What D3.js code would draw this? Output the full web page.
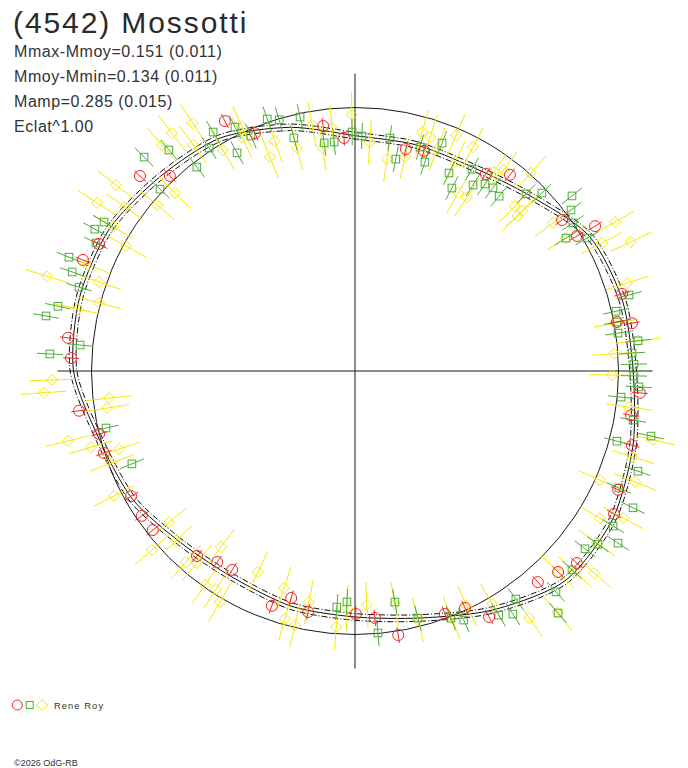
<!DOCTYPE html>
<html>
<head>
<meta charset="utf-8">
<script src="https://cdn.jsdelivr.net/npm/d3@7"></script>
<style>
  body { margin: 0; background: #fff; }
  text { font-family: "Liberation Sans", Arial, sans-serif; fill: #2a2a2a; }
</style>
</head>
<body>
<script>
const width = 688, height = 768;
const cx = 355, cy = 371;          // pole of the polar plot
const meanRadius = 263.5;          // radius of the mean magnitude circle
const pxPerMag = 225;

// header texts
const title = "(4542) Mossotti";
const infoLines = ["Mmax-Mmoy=0.151 (0.011)", "Mmoy-Mmin=0.134 (0.011)", "Mamp=0.285 (0.015)", "Eclat^1.00"];
const observer = "Rene Roy";
const credit = "\u00a92026 OdG-RB";
const axisMag = 0.151;   // axes run out to Mmax
const fitErr = 0.015;

// fitted curve: [phase in degrees, magnitude - mean]
const fitCurve = [
  [0, -0.125], [15, -0.130], [30, -0.125], [45, -0.070], [60, 0.030], [75, 0.058],
  [90, 0.065], [105, 0.108], [120, 0.150], [135, 0.148], [150, 0.055], [165, -0.035],
  [180, -0.078], [195, -0.088], [210, -0.105], [225, -0.085], [240, -0.030], [255, 0.005],
  [270, 0.080], [285, 0.096], [300, 0.090], [315, 0.052], [330, 0.025], [345, -0.050]
];

// observations: [phase in degrees, magnitude - mean]
const redObs = [
  [332.5, 0.081], [312.2, 0.119], [316.5, 0.024], [296.4, 0.099], [292.2, 0.135], [276.6, 0.113],
  [272.6, 0.092], [261.8, 0.068], [256.2, 0.000], [251.9, 0.003], [240.8, -0.031], [235.8, -0.026],
  [231.8, -0.028], [220.5, -0.090], [215.8, -0.124], [211.7, -0.132], [199.5, -0.064], [195.7, -0.123],
  [191.0, -0.080], [179.8, -0.091], [175.4, -0.070], [170.7, 0.018], [159.7, -0.020], [155.1, -0.010],
  [151.4, 0.074], [139.1, 0.070], [134.7, 0.099], [130.9, 0.133], [118.9, 0.144], [114.3, 0.112],
  [105.0, 0.103], [73.9, 0.064], [80.2, 0.078], [79.4, 0.013], [94.4, 0.099], [99.1, 0.071],
  [357.3, -0.134], [12.9, -0.159], [17.4, -0.146], [33.6, -0.120], [38.3, -0.060], [53.9, -0.032],
  [58.7, -0.016], [58.9, 0.075], [337.2, -0.024], [352.6, -0.073]
];
const greenObs = [
  [333.8, 0.037], [329.3, 0.064], [326.8, 0.013], [331.6, -0.069], [319.9, 0.113], [315.4, 0.164],
  [322.2, -0.024], [313.0, 0.014], [300.7, 0.126], [298.6, 0.146], [296.3, 0.113], [291.7, 0.197],
  [289.3, 0.161], [286.9, 0.111], [282.3, 0.180], [280.1, 0.224], [275.4, 0.056], [273.2, 0.187],
  [257.1, -0.036], [247.4, -0.097], [184.4, -0.119], [182.0, -0.144], [175.0, -0.002], [170.2, -0.129],
  [165.7, -0.038], [158.8, 0.007], [156.4, 0.037], [149.5, 0.088], [147.0, 0.117], [144.8, 0.069],
  [137.7, 0.156], [140.0, 0.233], [132.5, 0.137], [127.7, 0.121], [125.5, 0.155], [123.2, 0.226],
  [121.0, 0.167], [116.2, 0.206], [113.9, 0.112], [109.5, 0.163], [105.0, 0.034], [74.5, 0.093],
  [77.1, 0.019], [79.4, 0.013], [81.8, 0.010], [83.9, 0.094], [86.3, 0.063], [88.6, 0.069],
  [91.0, 0.069], [93.2, 0.093], [95.6, 0.017], [100.0, 0.084], [102.4, 0.176], [359.3, -0.109],
  [1.7, -0.126], [8.5, -0.124], [10.9, -0.212], [16.2, -0.135], [18.5, -0.192], [20.9, -0.087],
  [25.4, -0.197], [30.1, -0.134], [27.9, -0.251], [32.4, -0.192], [34.8, -0.159], [37.0, -0.152],
  [39.5, -0.164], [44.0, -0.077], [46.4, -0.024], [51.1, 0.068], [53.3, 0.026], [55.8, 0.000],
  [60.2, 0.017], [57.8, -0.063], [336.1, -0.029], [340.8, 0.015], [343.2, -0.005], [347.8, -0.016],
  [345.3, -0.100], [352.3, -0.148], [354.8, -0.149]
];
const yellowObs = [
  [326.8, 0.145], [322.4, 0.163], [319.5, 0.150], [324.4, 0.065], [329.1, -0.027], [335.2, 0.024],
  [314.7, -0.046], [307.9, 0.175], [303.1, 0.197], [305.5, 0.084], [310.0, -0.023], [300.8, 0.080],
  [298.6, -0.012], [291.7, 0.106], [287.1, 0.261], [289.2, 0.033], [284.9, 0.006], [282.6, 0.091],
  [268.3, 0.176], [266.0, 0.215], [263.7, -0.071], [261.5, -0.057], [256.3, 0.142], [253.9, 0.050],
  [251.7, -0.066], [249.3, -0.016], [242.6, 0.036], [230.9, -0.106], [226.5, -0.074], [228.6, 0.032],
  [217.3, -0.188], [221.5, -0.038], [219.5, -0.066], [215.0, -0.010], [212.5, -0.022], [210.3, 0.018],
  [205.8, -0.179], [198.1, -0.156], [191.3, -0.124], [195.8, -0.026], [193.3, -0.011], [184.2, -0.030],
  [181.9, -0.117], [177.1, -0.130], [170.3, -0.120], [165.8, -0.030], [158.6, 0.008], [154.5, -0.014],
  [149.5, 0.030], [144.8, 0.172], [140.1, 0.230], [134.7, 0.099], [132.4, 0.153], [130.2, 0.220],
  [125.4, 0.148], [121.0, 0.099], [118.7, 0.188], [114.0, 0.021], [111.6, 0.168], [107.2, 0.122],
  [103.0, 0.188], [72.1, 0.100], [79.6, 0.008], [83.9, 0.094], [86.2, -0.017], [90.9, -0.029],
  [97.5, 0.057], [359.3, -0.033], [3.7, -0.151], [8.6, -0.218], [13.2, -0.194], [15.7, -0.068],
  [17.8, -0.079], [20.3, -0.119], [23.2, -0.030], [27.8, -0.046], [25.6, -0.141], [30.1, -0.257],
  [32.8, -0.252], [34.9, -0.092], [36.5, -0.059], [41.6, 0.006], [44.1, -0.150], [46.2, -0.143],
  [46.4, -0.172], [53.2, -0.072], [57.8, -0.063], [62.6, 0.065], [60.2, 0.161], [64.9, 0.183],
  [340.8, -0.089], [338.3, -0.148], [345.4, -0.147], [350.1, -0.061], [351.8, -0.170], [354.6, -0.086],
  [334.2, -0.016]
];

// typical error of each session (mag)
const redErr = 0.035, greenErr = 0.058, yellowErr = 0.100;
const colors = { red: "#f02828", green: "#4cae3a", yellow: "#f6e800" };

const rScale = d3.scaleLinear().domain([0, 0.1]).range([meanRadius, meanRadius + pxPerMag * 0.1]);
const aScale = d3.scaleLinear().domain([0, 360]).range([0, 2 * Math.PI]);

function px(phase, mag) { return cx + rScale(mag) * Math.sin(aScale(phase)); }
function py(phase, mag) { return cy - rScale(mag) * Math.cos(aScale(phase)); }

var svg = d3.select("body").append("svg")
    .attr("width", width)
    .attr("height", height);

svg.append("rect").attr("width", width).attr("height", height).attr("fill", "#fff");

var plot = svg.append("g").attr("transform", "translate(" + cx + "," + cy + ")");

// axes through the pole
var axisR = rScale(axisMag);
plot.append("line").attr("x1", 0).attr("x2", 0).attr("y1", -axisR).attr("y2", axisR)
    .attr("stroke", "#1a1a1a").attr("stroke-width", 1);
plot.append("line").attr("x1", -axisR).attr("x2", axisR).attr("y1", 0).attr("y2", 0)
    .attr("stroke", "#1a1a1a").attr("stroke-width", 1);

// mean magnitude circle
plot.append("circle").attr("r", rScale(0))
    .attr("fill", "none").attr("stroke", "#1a1a1a").attr("stroke-width", 1);

// observations
function drawSeries(data, err, color, shape) {
    var g = svg.append("g");
    g.selectAll("line").data(data).enter().append("line")
        .attr("x1", d => px(d[0], d[1] - err)).attr("y1", d => py(d[0], d[1] - err))
        .attr("x2", d => px(d[0], d[1] + err)).attr("y2", d => py(d[0], d[1] + err))
        .attr("stroke", color).attr("stroke-width", 1);
    var marks = g.selectAll(".m").data(data).enter();
    if (shape == "circle") {
        marks.append("circle").attr("class", "m")
            .attr("cx", d => px(d[0], d[1])).attr("cy", d => py(d[0], d[1]))
            .attr("r", 5.5).attr("fill", "none").attr("stroke", color);
    } else if (shape == "square") {
        marks.append("rect").attr("class", "m")
            .attr("x", d => px(d[0], d[1]) - 3.8).attr("y", d => py(d[0], d[1]) - 3.8)
            .attr("width", 7.6).attr("height", 7.6).attr("fill", "none").attr("stroke", color);
    } else {
        marks.append("path").attr("class", "m")
            .attr("d", d => { var x = px(d[0], d[1]), y = py(d[0], d[1]);
                return "M" + x + "," + (y - 5.6) + "L" + (x + 5.6) + "," + y + "L" + x + "," + (y + 5.6) + "L" + (x - 5.6) + "," + y + "Z"; })
            .attr("fill", "none").attr("stroke", color);
    }
}
drawSeries(yellowObs, yellowErr, colors.yellow, "diamond");
drawSeries(greenObs, greenErr, colors.green, "square");
drawSeries(redObs, redErr, colors.red, "circle");

// fitted curve with its error envelope
function fitLine(offset) {
    return d3.lineRadial()
        .angle(d => aScale(d[0]))
        .radius(d => rScale(d[1] + offset))
        .curve(d3.curveCardinalClosed.tension(0.2));
}
plot.append("path").attr("d", fitLine(0)(fitCurve))
    .attr("fill", "none").attr("stroke", "#111").attr("stroke-width", 1);
[-fitErr, fitErr].forEach(function(o) {
    plot.append("path").attr("d", fitLine(o)(fitCurve))
        .attr("fill", "none").attr("stroke", "#111").attr("stroke-width", 1)
        .attr("stroke-dasharray", "6,2,1,2");
});

// header
svg.append("text").attr("x", 13).attr("y", 33).attr("font-size", 30)
    .attr("letter-spacing", 1.9).text(title);
svg.selectAll(".info").data(infoLines).enter().append("text")
    .attr("class", "info").attr("x", 14).attr("y", (d, i) => 57 + i * 25)
    .attr("font-size", 16).attr("letter-spacing", 0.55).style("fill", "#333").text(d => d);

// legend
var lg = svg.append("g").attr("transform", "translate(0,705)");
lg.append("circle").attr("cx", 17.3).attr("cy", 0).attr("r", 5)
    .attr("fill", "none").attr("stroke", colors.red);
lg.append("rect").attr("x", 26.2).attr("y", -3.5).attr("width", 7).attr("height", 7)
    .attr("fill", "none").attr("stroke", colors.green);
lg.append("path").attr("d", "M42.3,-5.6L47.9,0L42.3,5.6L36.7,0Z")
    .attr("fill", "none").attr("stroke", colors.yellow);
lg.append("text").attr("x", 54).attr("y", 4).attr("font-size", 9.3)
    .attr("letter-spacing", 1.1).style("fill", "#333").text(observer);

svg.append("text").attr("x", 14).attr("y", 766).attr("font-size", 9)
    .attr("letter-spacing", 0).style("fill", "#333").text(credit);
</script>
</body>
</html>
